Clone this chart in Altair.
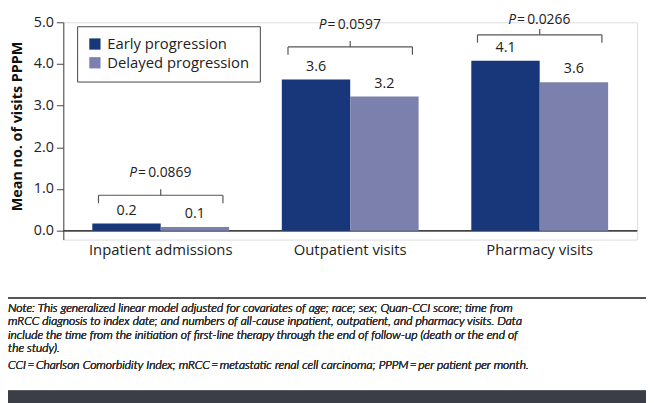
import altair as alt
import pandas as pd

categories = ["Inpatient admissions", "Outpatient visits", "Pharmacy visits"]
series = ["Early progression", "Delayed progression"]
early_values = [0.17, 3.63, 4.08]
delayed_values = [0.09, 3.22, 3.56]
p_values = ["0.0869", "0.0597", "0.0266"]
bracket_levels = [0.85, 4.41, 4.70]
y_ticks = [0, 1, 2, 3, 4, 5]
note_lines = [
    "Note: This generalized linear model adjusted for covariates of age; race; sex; Quan-CCI score; time from",
    "mRCC diagnosis to index date; and numbers of all-cause inpatient, outpatient, and pharmacy visits. Data",
    "include the time from the initiation of first-line therapy through the end of follow-up (death or the end of",
    "the study).",
]
abbrev_line = "CCI\u2009=\u2009Charlson Comorbidity Index; mRCC\u2009=\u2009metastatic renal cell carcinoma; PPPM\u2009=\u2009per patient per month."
colors = ["#18377a", "#7b80ad"]

FONT = "Open Sans"
NOTE_FONT = "Lato"
W, H = 581, 220

rows = []
for c, e, d in zip(categories, early_values, delayed_values):
    rows.append({"category": c, "series": series[0], "value": e})
    rows.append({"category": c, "series": series[1], "value": d})
bars_df = pd.DataFrame(rows)
br_df = pd.DataFrame({"category": categories, "level": bracket_levels,
                      "p": ["=\u2009" + p for p in p_values],
                      "P": ["P"] * len(categories)})

x_enc = alt.X("category:N", sort=categories,
              scale=alt.Scale(paddingInner=0.278, paddingOuter=0.153),
              axis=alt.Axis(title=None, domain=False, ticks=False, labelAngle=0,
                            labelFontSize=15, labelColor="#222", labelFont=FONT,
                            labelPadding=3))
xo_enc = alt.XOffset("series:N", sort=series, scale=alt.Scale(paddingInner=0, paddingOuter=0))
y_scale = alt.Scale(domain=[-0.213, 5], nice=False, zero=False)

bars = alt.Chart(bars_df).mark_bar().encode(
    x=x_enc,
    xOffset=xo_enc,
    y=alt.Y("value:Q", scale=y_scale, stack=None,
            axis=alt.Axis(title="Mean no. of visits PPPM", values=y_ticks, format=".1f",
                          grid=False, tickSize=7, tickColor="#444", domainColor="#444",
                          labelFontSize=14.5, labelColor="#222", labelFont=FONT, labelPadding=3,
                          titleFont=FONT, titleFontSize=14.5, titleFontWeight="bold",
                          titleColor="#111", titlePadding=9, titleY=105)),
    y2=alt.datum(0),
    color=alt.Color("series:N", sort=series, scale=alt.Scale(domain=series, range=colors),
                    legend=alt.Legend(title=None, orient="none", legendX=14, legendY=4,
                                      symbolType="square", symbolSize=130, symbolStrokeWidth=0,
                                      labelFontSize=15, labelFont=FONT, labelColor="#222",
                                      strokeColor="#444", padding=10.5, rowPadding=3,
                                      labelOffset=5)),
)

labels = alt.Chart(bars_df).mark_text(dy=-13, fontSize=14.5, font=FONT, color="#222").encode(
    x=alt.X("category:N", sort=categories),
    xOffset=alt.XOffset("series:N", sort=series),
    y=alt.Y("value:Q"),
    text=alt.Text("value:Q", format=".1f"),
)

bcol = "#555"
xc = alt.X("category:N", sort=categories)
br_base = alt.Chart(br_df)
br_h = br_base.mark_rule(color=bcol, strokeWidth=1.2, xOffset=-63, x2Offset=63).encode(
    x=xc, x2=alt.X2("category:N"), y="level:Q")
br_l = br_base.mark_rule(color=bcol, strokeWidth=1.2, xOffset=-63, y2Offset=8).encode(
    x=xc, y="level:Q", y2="level:Q")
br_r = br_base.mark_rule(color=bcol, strokeWidth=1.2, xOffset=63, y2Offset=8).encode(
    x=xc, y="level:Q", y2="level:Q")
br_m = br_base.mark_rule(color=bcol, strokeWidth=1.2, y2Offset=-6).encode(
    x=xc, y="level:Q", y2="level:Q")

top_cat = categories[-1]
not_top = alt.datum.category != top_cat
is_top = alt.datum.category == top_cat


def p_layers(flt, dy):
    pi = br_base.transform_filter(flt).mark_text(
        dy=dy, dx=-24, align="right", fontSize=14, font=FONT, fontStyle="italic",
        color="#222").encode(x=xc, y="level:Q", text="P:N")
    pv = br_base.transform_filter(flt).mark_text(
        dy=dy, dx=-23, align="left", fontSize=14, font=FONT, color="#222").encode(
        x=xc, y="level:Q", text="p:N")
    return [pi, pv]


p_text = p_layers(not_top, -22) + p_layers(is_top, -15)

zero_line = alt.Chart(bars_df).mark_rule(color="#444", strokeWidth=1).encode(
    y=alt.datum(0), x=alt.value(0), x2=alt.value(W))

sep = alt.Chart(bars_df).mark_rule(color="#555", strokeWidth=1.2).encode(
    x=alt.value(-70), x2=alt.value(620), y=alt.value(279))
notes = alt.Chart(bars_df).mark_text(text=note_lines, align="left", baseline="middle",
                                     lineHeight=13.7, font=NOTE_FONT, fontStyle="italic",
                                     fontWeight=300, fontSize=12.3, color="#333").encode(
    x=alt.value(-56), y=alt.value(289))
abbrev = alt.Chart(bars_df).mark_text(text=abbrev_line, align="left", baseline="middle",
                                      font=NOTE_FONT, fontStyle="italic", fontWeight=300,
                                      fontSize=12.3, color="#333").encode(
    x=alt.value(-56), y=alt.value(347))
bottom_bar = alt.Chart(bars_df).mark_rect(color="#3b3e46").encode(
    x=alt.value(-70), x2=alt.value(620), y=alt.value(373), y2=alt.value(400))

chart = alt.layer(
    zero_line, bars, labels, br_h, br_l, br_r, br_m, *p_text, sep, notes, abbrev, bottom_bar
).properties(
    width=W, height=H,
    autosize=alt.AutoSizeParams(type="none"),
    padding={"left": 56, "top": 12, "right": 9, "bottom": 163},
).configure_view(stroke=None).configure(background="white")

chart.save("out.html", embed_options={"renderer": "svg", "actions": False})
